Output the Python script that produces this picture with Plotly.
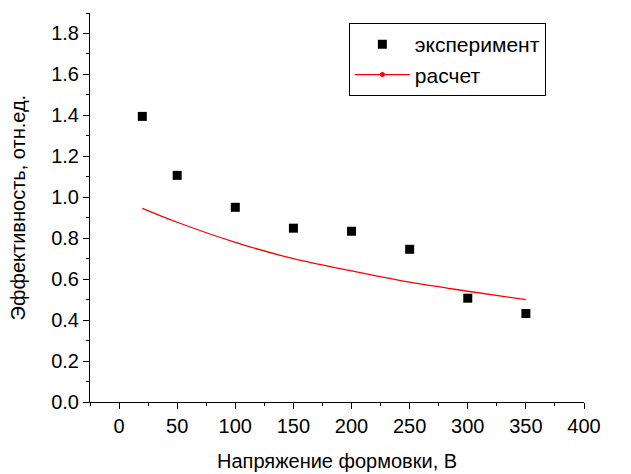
import plotly.graph_objects as go

x_exp = [20, 50, 100, 150, 200, 250, 300, 350]
y_exp = [1.395, 1.107, 0.951, 0.849, 0.834, 0.746, 0.507, 0.432]

x_calc = [20, 50, 100, 150, 200, 250, 300, 350]
y_calc = [0.946, 0.878, 0.780, 0.700, 0.640, 0.585, 0.541, 0.500]

x_tickvals = [0, 50, 100, 150, 200, 250, 300, 350, 400]
y_tickvals = [0.0, 0.2, 0.4, 0.6, 0.8, 1.0, 1.2, 1.4, 1.6, 1.8]

x_title = "Напряжение формовки, В"
y_title = "Эффективность, отн.ед."

font = "Liberation Sans, Arial, sans-serif"

fig = go.Figure()
fig.add_trace(go.Scatter(
    x=x_exp, y=y_exp, mode="markers", name="эксперимент",
    marker=dict(symbol="square", size=9, color="black"),
))
fig.add_trace(go.Scatter(
    x=x_calc, y=y_calc, mode="lines", name="расчет", showlegend=False,
    line=dict(color="red", width=1.3, shape="spline"),
))
# legend entry for the calculated curve (line with dot)
fig.add_trace(go.Scatter(
    x=[None], y=[None], mode="lines+markers", name="расчет",
    line=dict(color="red", width=1.3), marker=dict(color="red", size=5),
))

fig.update_layout(
    width=623, height=466,
    margin=dict(l=82, r=47, t=5, b=72),
    plot_bgcolor="white", paper_bgcolor="white",
    font=dict(family=font, size=20, color="black"),
    showlegend=True,
    legend=dict(
        x=0.524, y=0.974, xanchor="left", yanchor="top",
        bordercolor="black", borderwidth=1, bgcolor="white",
        font=dict(size=21), tracegroupgap=0, itemwidth=55,
    ),
    annotations=[
        dict(text=x_title, xref="paper", yref="paper", x=0.5, y=-0.152,
             xanchor="center", yanchor="middle", showarrow=False,
             font=dict(size=20)),
        dict(text=y_title, xref="paper", yref="paper", x=-0.146, y=0.5,
             xanchor="center", yanchor="middle", showarrow=False, textangle=-90,
             font=dict(size=20)),
    ],
)
fig.update_xaxes(
    range=[-25, 400], tickvals=x_tickvals, automargin=False,
    showline=True, linecolor="black", linewidth=1,
    ticks="outside", ticklen=6, tickcolor="black",
    minor=dict(dtick=25, tick0=0, ticks="outside", ticklen=3, tickcolor="black"),
    showgrid=False, zeroline=False,
)
fig.update_yaxes(
    range=[0, 1.9], tickvals=y_tickvals, tickformat=".1f", automargin=False,
    showline=True, linecolor="black", linewidth=1,
    ticks="outside", ticklen=6, tickcolor="black",
    minor=dict(dtick=0.1, tick0=0, ticks="outside", ticklen=3, tickcolor="black"),
    showgrid=False, zeroline=False,
)

fig.write_html("out.html")
